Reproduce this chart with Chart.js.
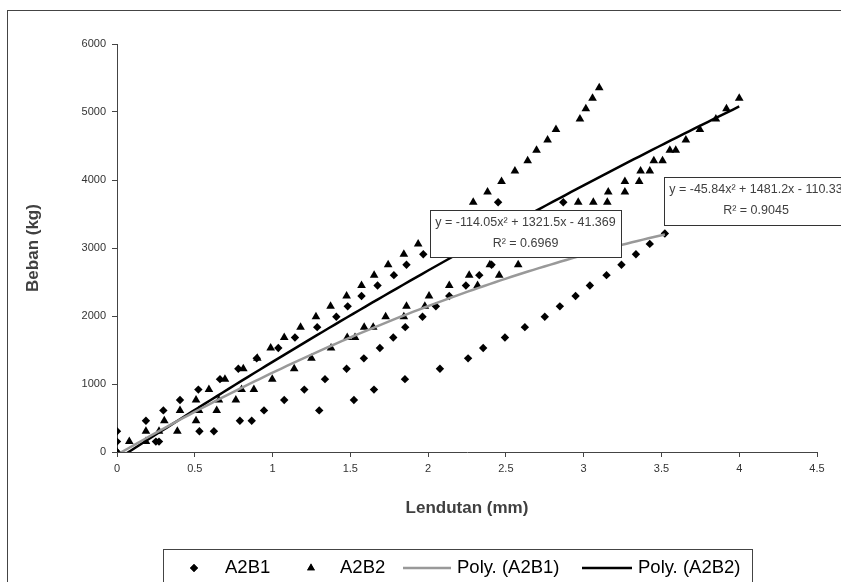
<!DOCTYPE html>
<html>
<head>
<meta charset="utf-8">
<script src="https://cdn.jsdelivr.net/npm/chart.js@4.4.0/dist/chart.umd.min.js"></script>
<style>
  html, body { margin: 0; padding: 0; background: #fff; }
  #wrap { width: 841px; height: 582px; }
</style>
</head>
<body>
<div id="wrap"><canvas id="myChart"></canvas></div>
<script>
// A2B1 (diamonds)
const a2b1X = [0, 0, 0,
  0.186, 0.298, 0.405, 0.523, 0.662, 0.78, 0.898, 1.037, 1.144, 1.287, 1.41, 1.483, 1.572, 1.675, 1.78, 1.861, 1.969, 2.45,
  0.27, 0.53, 0.79, 0.945, 1.075, 1.204, 1.337, 1.476, 1.587, 1.69, 1.776, 1.853, 1.964, 2.05, 2.136, 2.243, 2.329, 2.408, 2.869,
  0.25, 0.623, 0.866, 1.30, 1.523, 1.652, 1.851, 2.076, 2.257, 2.354, 2.494, 2.622, 2.75, 2.847, 2.948, 3.04, 3.147, 3.243, 3.336, 3.425, 3.522];
const a2b1Y = [0, 153, 306,
  459, 612, 765, 918, 1071, 1224, 1377, 1530, 1683, 1836, 1989, 2142, 2295, 2448, 2601, 2754, 2907, 3672,
  153, 306, 459, 612, 765, 918, 1071, 1224, 1377, 1530, 1683, 1836, 1989, 2142, 2295, 2448, 2601, 2754, 3672,
  153, 306, 459, 612, 765, 918, 1071, 1224, 1377, 1530, 1683, 1836, 1989, 2142, 2295, 2448, 2601, 2754, 2907, 3060, 3213];

// A2B2 (triangles)
const a2b2X = [0,
  0.079, 0.186, 0.304, 0.405, 0.508, 0.591, 0.694, 0.812, 0.902, 0.988, 1.075, 1.18, 1.279, 1.373, 1.476, 1.572, 1.653, 1.743, 1.844, 1.936,
  2.29, 2.382, 2.472, 2.558, 2.64, 2.697, 2.768, 2.822, 2.976, 3.014, 3.057, 3.1,
  0.186, 0.27, 0.388, 0.508, 0.527, 0.641, 0.655, 0.764, 0.801, 0.88, 0.998, 1.139, 1.25, 1.376, 1.48, 1.53, 1.589, 1.647, 1.727, 1.844,
  1.861, 1.979, 2.006, 2.136, 2.318, 2.264, 2.457, 2.397, 2.579,
  2.965, 3.062, 3.152, 3.158, 3.265, 3.265, 3.357, 3.366, 3.425, 3.451, 3.507, 3.554, 3.592, 3.657, 3.747, 3.85, 3.918, 4.0];
const a2b2Y = [0,
  153, 306, 459, 612, 765, 918, 1071, 1224, 1377, 1530, 1683, 1836, 1989, 2142, 2295, 2448, 2601, 2754, 2907, 3060,
  3672, 3825, 3978, 4131, 4284, 4437, 4590, 4743, 4896, 5049, 5202, 5355,
  153, 306, 306, 459, 612, 612, 765, 765, 918, 918, 1071, 1224, 1377, 1530, 1683, 1683, 1836, 1836, 1989, 1989,
  2142, 2142, 2295, 2448, 2448, 2601, 2601, 2754, 2754,
  3672, 3672, 3672, 3825, 3825, 3978, 3978, 4131, 4131, 4284, 4284, 4437, 4437, 4590, 4743, 4896, 5049, 5202];

// trendline coefficients as printed on the chart (a x^2 + b x + c)
const fitA2B1 = [-114.05, 1321.5, -41.369];
const fitA2B2 = [-45.84, 1481.2, -110.33];
const r2A2B1 = "0.6969";
const r2A2B2 = "0.9045";

const xTicks = [0, 0.5, 1, 1.5, 2, 2.5, 3, 3.5, 4, 4.5];
const yTicks = [0, 1000, 2000, 3000, 4000, 5000, 6000];

const toPts = (xs, ys) => xs.map((x, i) => ({ x: x, y: ys[i] }));
function curve(coef, xs) {
  const xmax = Math.max(...xs);
  const pts = [];
  for (let i = 0; i <= 100; i++) {
    const x = xmax * i / 100;
    pts.push({ x: x, y: coef[0] * x * x + coef[1] * x + coef[2] });
  }
  return pts;
}
function eqText(coef) {
  const sign = v => (v < 0 ? " - " : " + ") + Math.abs(v);
  return "y = " + coef[0] + "x\u00B2" + sign(coef[1]) + "x" + sign(coef[2]);
}

const FONT = "'Liberation Sans', Arial, sans-serif";

const decor = {
  id: "decor",
  afterDraw(chart) {
    const c = chart.ctx;
    c.save();
    c.strokeStyle = "#444";
    c.lineWidth = 1;
    c.strokeRect(7.5, 10.5, 900, 700);

    function box(x, y, w, h, lines) {
      c.fillStyle = "#fff";
      c.fillRect(x, y, w, h);
      c.strokeStyle = "#333";
      c.strokeRect(x + 0.5, y + 0.5, w, h);
      c.fillStyle = "#404040";
      c.font = "12.5px " + FONT;
      c.textAlign = "center";
      c.textBaseline = "middle";
      c.fillText(lines[0], x + w / 2, y + 13);
      c.fillText(lines[1], x + w / 2, y + 34);
    }
    box(430, 210, 191, 47, [eqText(fitA2B1), "R\u00B2 = " + r2A2B1]);
    box(664, 177, 184, 48, [eqText(fitA2B2), "R\u00B2 = " + r2A2B2]);

    // legend
    c.strokeStyle = "#444";
    c.strokeRect(163.5, 549.5, 589, 100);
    const ly = 568;
    c.fillStyle = "#000";
    c.font = "18.5px " + FONT;
    c.textAlign = "left";
    c.textBaseline = "middle";
    c.beginPath();
    Chart.helpers.drawPoint(c, { pointStyle: "rectRot", radius: 4, borderWidth: 0 }, 194, ly);
    c.fill();
    c.fillText("A2B1", 225, ly);
    c.beginPath();
    Chart.helpers.drawPoint(c, { pointStyle: "triangle", radius: 4.5, borderWidth: 0 }, 311, ly);
    c.fill();
    c.fillText("A2B2", 340, ly);
    c.lineWidth = 2.5;
    c.strokeStyle = "#999";
    c.beginPath(); c.moveTo(403, ly); c.lineTo(451, ly); c.stroke();
    c.fillText("Poly. (A2B1)", 457, ly);
    c.strokeStyle = "#000";
    c.beginPath(); c.moveTo(582, ly); c.lineTo(632, ly); c.stroke();
    c.fillText("Poly. (A2B2)", 638, ly);
    c.restore();
  }
};

const ctx = document.getElementById("myChart").getContext("2d");
new Chart(ctx, {
  type: "scatter",
  data: {
    datasets: [
      { label: "Poly. (A2B1)", data: curve(fitA2B1, a2b1X), showLine: true, borderColor: "#999", borderWidth: 2.5,
        pointRadius: 0, tension: 0, order: 0 },
      { label: "Poly. (A2B2)", data: curve(fitA2B2, a2b2X), showLine: true, borderColor: "#000", borderWidth: 2.5,
        pointRadius: 0, tension: 0, order: 0 },
      { label: "A2B1", data: toPts(a2b1X, a2b1Y), pointStyle: "rectRot", pointRadius: 4.2,
        backgroundColor: "#000", borderColor: "#000", borderWidth: 0, order: 1 },
      { label: "A2B2", data: toPts(a2b2X, a2b2Y), pointStyle: "triangle", pointRadius: 5,
        backgroundColor: "#000", borderColor: "#000", borderWidth: 0, order: 1 }
    ]
  },
  options: {
    responsive: true,
    maintainAspectRatio: false,
    animation: false,
    layout: { padding: { left: 15, right: 24, top: 44, bottom: 62 } },
    plugins: {
      legend: { display: false },
      tooltip: { enabled: false }
    },
    scales: {
      x: {
        type: "linear", min: 0, max: 4.5,
        afterBuildTicks: s => { s.ticks = xTicks.map(v => ({ value: v })); },
        afterFit: s => { s.height = 68; },
        grid: { drawOnChartArea: false, drawTicks: true, tickLength: 5, color: "#444" },
        border: { display: true, color: "#444", width: 1 },
        ticks: { padding: 5, color: "#333", font: { family: FONT, size: 11 }, maxRotation: 0,
          callback: v => String(v) },
        title: { display: true, text: "Lendutan (mm)", color: "#404040",
          font: { family: FONT, size: 17, weight: "bold" }, padding: { top: 0, bottom: 1 } }
      },
      y: {
        type: "linear", min: 0, max: 6000,
        afterBuildTicks: s => { s.ticks = yTicks.map(v => ({ value: v })); },
        afterFit: s => { s.width = 102; },
        grid: { drawOnChartArea: false, drawTicks: true, tickLength: 5, color: "#444" },
        border: { display: true, color: "#444", width: 1 },
        ticks: { padding: 6, color: "#333", font: { family: FONT, size: 11 }, callback: v => String(v) },
        title: { display: true, text: "Beban (kg)", color: "#404040",
          font: { family: FONT, size: 17, weight: "bold" }, padding: { top: 8, bottom: 0 } }
      }
    }
  },
  plugins: [decor]
});
</script>
</body>
</html>
